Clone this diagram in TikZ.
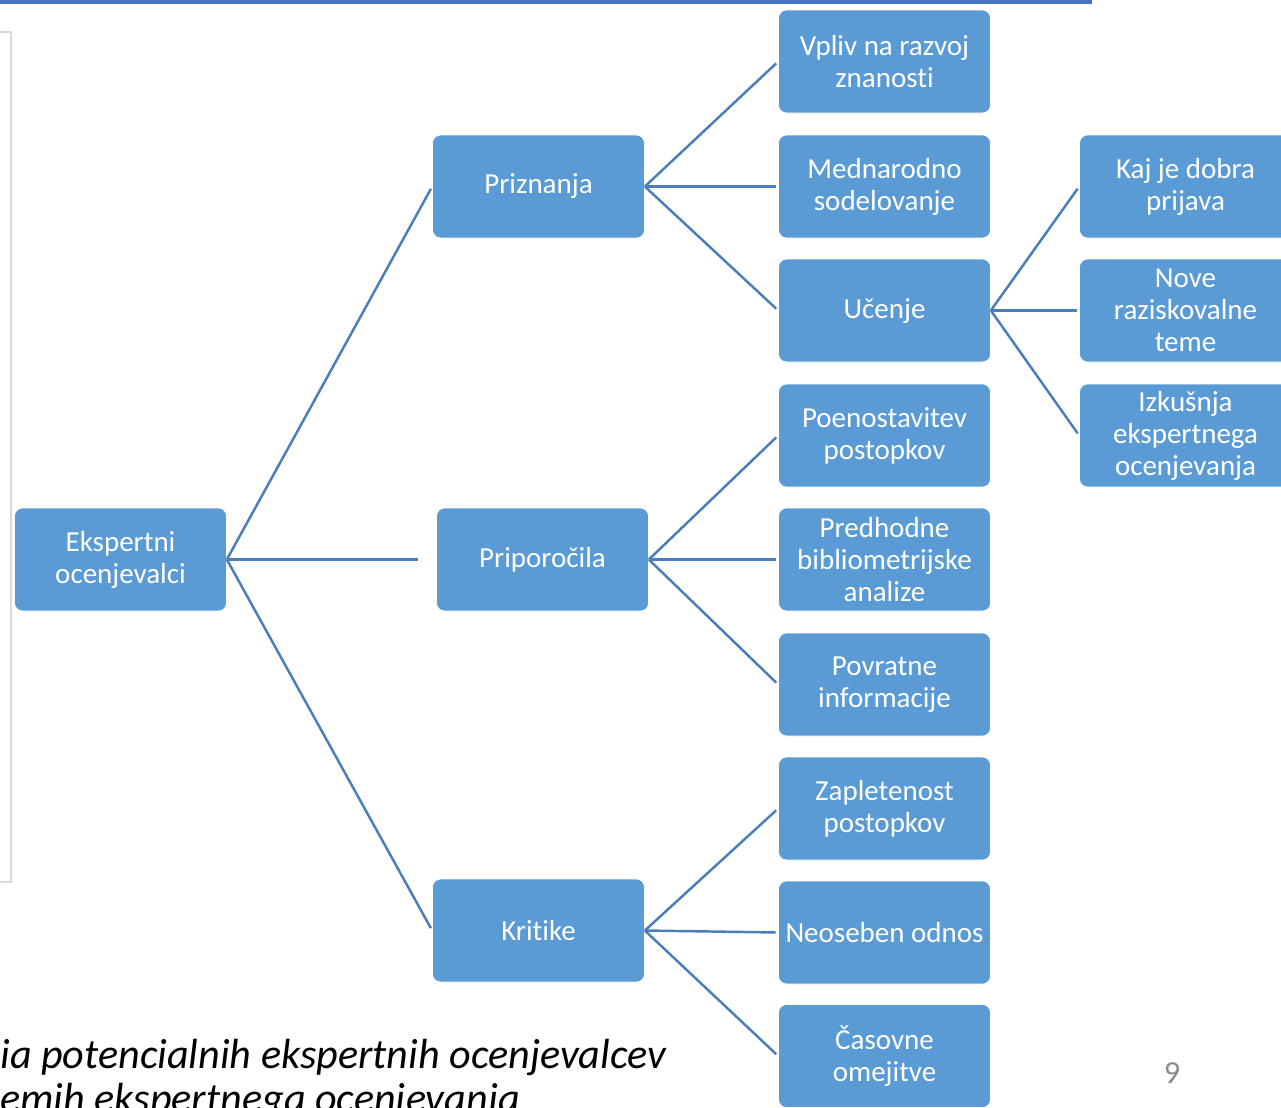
\documentclass[tikz,border=0pt]{standalone}
\usepackage{fontspec}
\setmainfont{Carlito}[Ligatures=NoCommon]
\definecolor{boxblue}{HTML}{5B9BD5}
\definecolor{linkblue}{HTML}{4A7EBB}
\definecolor{topblue}{HTML}{4472C4}
\definecolor{framegray}{HTML}{D9D9D9}
\definecolor{numgray}{HTML}{898989}

\begin{document}
\begin{tikzpicture}[x=0.02cm,y=-0.02cm,
    box/.style={rectangle,rounded corners=0.16cm,fill=boxblue,draw=white,line width=0.4pt,
        minimum width=4.24cm,minimum height=2.06cm,align=center,text=white,inner sep=0pt,
        font=\fontsize{16.5}{18.2}\selectfont},
    link/.style={draw=linkblue,line width=1.4pt,shorten >=1.5pt}]
            \useasboundingbox (0,0) rectangle (1281,1107);
            \clip (0,0) rectangle (1281,1107);
            % slide decoration
            \fill[topblue] (0,0) rectangle (1092,4);
            \draw[framegray,line width=1.2pt] (-5,32) -- (11,32) -- (11,882) -- (-5,882);
            % tree
            \node[box] (eksp) at (120.5,559.5) {Ekspertni\\ocenjevalci};
            \node[box] (prizn) at (538.5,186.5) {Priznanja};
            \node[box] (pripor) at (542.5,559.5) {Priporočila};
            \node[box] (krit) at (538.5,930.5) {Kritike};
            \node[box] (vpliv) at (884.5,61.5) {Vpliv na razvoj\\znanosti};
            \node[box] (mednar) at (884.5,186.5) {Mednarodno\\sodelovanje};
            \node[box] (ucenje) at (884.5,310.5) {Učenje};
            \node[box] (poenost) at (884.5,435.5) {Poenostavitev\\postopkov};
            \node[box] (predh) at (884.5,559.5) {Predhodne\\bibliometrijske\\analize};
            \node[box] (povrat) at (884.5,684.5) {Povratne\\informacije};
            \node[box] (zaplet) at (884.5,808.5) {Zapletenost\\postopkov};
            \node[box] (neoseb) at (884.5,932.5) {Neoseben odnos};
            \node[box] (casov) at (884.5,1056) {Časovne\\omejitve};
            \node[box] (kaj) at (1185.5,186.5) {Kaj je dobra\\prijava};
            \node[box] (nove) at (1185.5,310.5) {Nove\\raziskovalne\\teme};
            \node[box] (izkus) at (1185.5,435.5) {Izkušnja\\ekspertnega\\ocenjevanja};
            \draw[link] (eksp.east) -- (prizn.west);
            \draw[link,shorten >=10.5pt] (eksp.east) -- (pripor.west);
            \draw[link] (eksp.east) -- (krit.west);
            \foreach \c in {vpliv,mednar,ucenje} \draw[link] (prizn.east) -- (\c.west);
            \foreach \c in {poenost,predh,povrat} \draw[link] (pripor.east) -- (\c.west);
            \foreach \c in {zaplet,neoseb,casov} \draw[link] (krit.east) -- (\c.west);
            \foreach \c in {kaj,nove,izkus} \draw[link] (ucenje.east) -- (\c.west);
            % caption and page number
            \node[anchor=base west,inner sep=0pt,font=\fontsize{24}{25}\selectfont\itshape] (cap1) at (0,1068) {ia potencialnih ekspertnih ocenjevalcev};
            \node[anchor=base west,inner sep=0pt,font=\fontsize{24}{25}\selectfont\itshape] (cap2) at (0,1112) {emih ekspertnega ocenjevanja};
            \node[font=\fontsize{18.3}{20}\selectfont,text=numgray,anchor=base] (num) at (1172,1083) {9};
        \end{tikzpicture}
\end{document}
